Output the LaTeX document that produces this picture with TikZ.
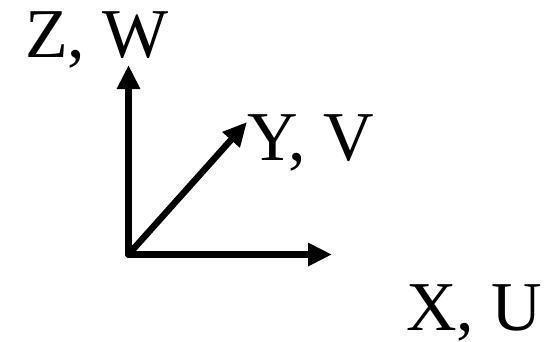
\documentclass[tikz,border=0pt]{standalone}
\usepackage{fontspec}
\setmainfont{Liberation Serif}
\usetikzlibrary{arrows.meta}
\begin{document}
\begin{tikzpicture}[x=1pt,y=-1pt,
  axis/.style={line width=6.5pt,line cap=round,-{Triangle[length=24pt,width=22pt]}},
  lbl/.style={inner sep=0pt,anchor=base west,font=\fontsize{70}{70}\selectfont}]
\useasboundingbox (0,0) rectangle (554,341);
\coordinate (O) at (128.5,254.5);
\coordinate (Zt) at (128.5,65);
\coordinate (Xt) at (332,254.5);
\coordinate (Yt) at (247,122);
\draw[axis] (O) -- (Zt);
\draw[axis] (O) -- (Xt);
\draw[axis] (O) -- (Yt);
\node[lbl] (zw) at (25,57) {Z, W};
\node[lbl] (yv) at (247,160) {Y, V};
\node[lbl] (xu) at (406,330) {X, U};
\end{tikzpicture}
\end{document}
